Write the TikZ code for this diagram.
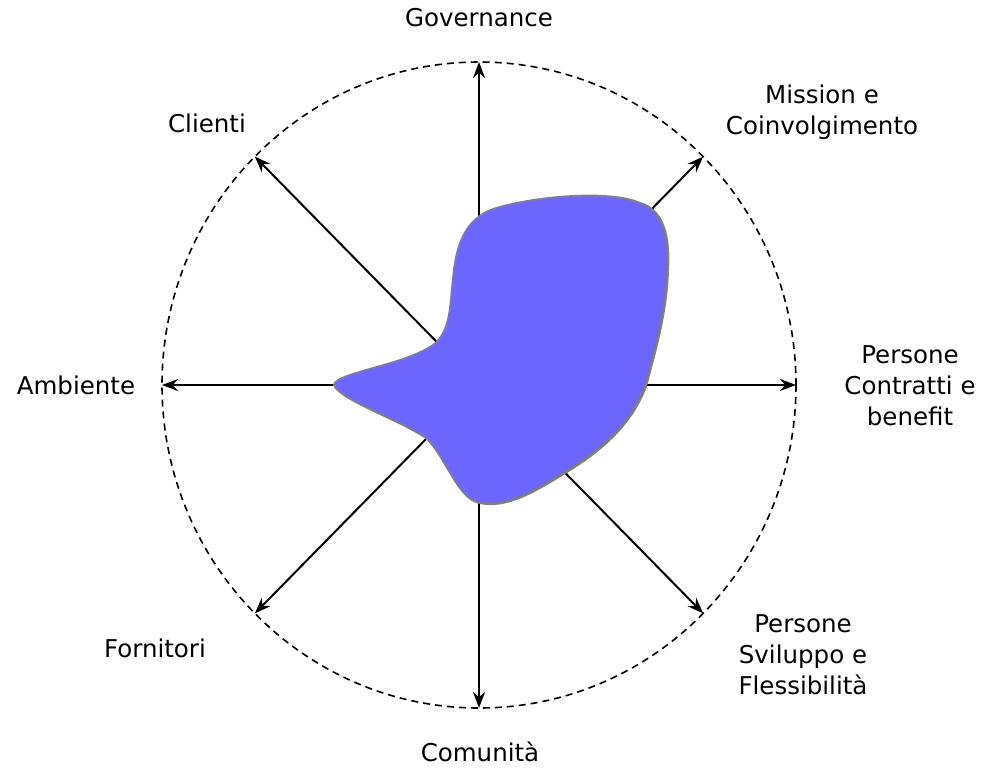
\documentclass[tikz,border=0pt]{standalone}
\usepackage{fontspec}
\setmainfont{DejaVu Sans}
\usetikzlibrary{arrows.meta,calc}
\definecolor{blobfill}{RGB}{108,102,255}
\definecolor{blobline}{RGB}{128,128,128}
\tikzset{
  spoke/.style={line width=2pt,-{Stealth[length=16pt,width=12pt]}},
  rim/.style={line width=1.6pt,dash pattern=on 7pt off 5pt},
  lbl/.style={font=\fontsize{24.5}{31}\selectfont,align=center,inner sep=0pt},
  blob/.style={fill=blobfill,draw=blobline,line width=2pt}}
\begin{document}
\begin{tikzpicture}[x=1pt,y=-1pt]
\useasboundingbox (0,0) rectangle (991,769);
\coordinate (c) at (479,385);
\draw[rim] (c) ellipse [x radius=317pt, y radius=323pt];
\foreach \a/\n in {90/N,45/NE,0/E,-45/SE,-90/S,-135/SW,180/W,135/NW}{
  \coordinate (e\n) at ($(c)+(\a:317pt and 323pt)$);
  \draw[spoke] (c) -- (e\n);
}
\path[blob] (453,280)
  .. controls (456,240) and (468,215) .. (500,207)
  .. controls (540,196) and (610,190) .. (640,203)
  .. controls (665,210) and (670,240) .. (668,270)
  .. controls (667,310) and (656,350) .. (646,386)
  .. controls (632,425) and (600,452) .. (565,473)
  .. controls (530,495) and (505,508) .. (480,503)
  .. controls (458,500) and (445,455) .. (426,438)
  .. controls (400,420) and (340,400) .. (334,385)
  .. controls (336,372) and (410,365) .. (437,342)
  .. controls (452,325) and (450,300) .. (453,280) -- cycle;
\node[lbl] (gov) at (479,18) {Governance};
\node[lbl] (mis) at (822,112) {Mission e\\Coinvolgimento};
\node[lbl] (cli) at (207,123) {Clienti};
\node[lbl] (amb) at (76,385) {Ambiente};
\node[lbl] (pcb) at (910,386) {Persone\\Contratti e\\benefit};
\node[lbl] (psf) at (803,655) {Persone\\Sviluppo e\\Flessibilità};
\node[lbl] (for) at (155,648) {Fornitori};
\node[lbl] (com) at (480,752) {Comunità};
\end{tikzpicture}
\end{document}
